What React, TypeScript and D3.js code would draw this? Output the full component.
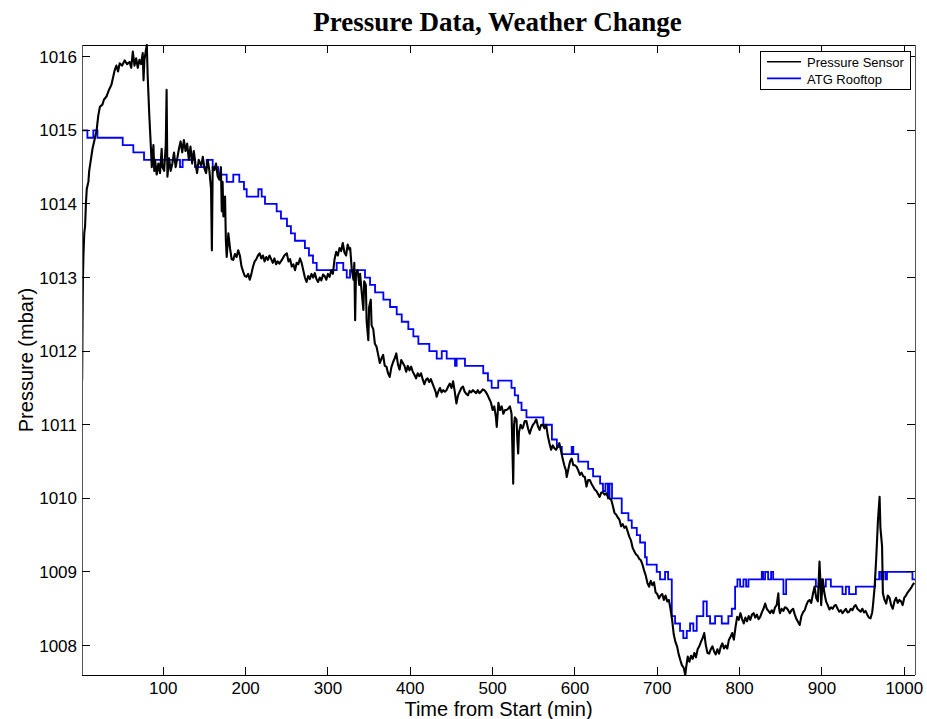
import React from 'react';
import * as d3 from 'd3';

// Pressure Sensor (black) — time (min), pressure (mbar)
const sensorTime = [
  1.4, 1.9, 2.4, 3, 4, 5, 6, 7, 8, 9, 10, 12, 14, 16, 19, 21, 23, 26, 28, 31, 34, 37, 41, 43, 45, 47, 50, 53, 56, 59,
  61, 63, 65, 67, 69, 71, 73, 75, 76, 77, 79, 80, 81, 83, 85, 86, 88, 89, 90, 92, 94, 96, 98, 99, 101, 103, 104, 105, 107, 109,
  111, 113, 115, 117, 119, 121, 123, 125, 127, 129, 131, 133, 135, 137, 139, 141, 143, 146, 148, 150, 152, 154, 156, 158, 159, 160, 162, 164, 166, 168,
  170, 171, 172, 173, 175, 176, 177, 179, 181, 183, 185, 187, 189, 191, 193, 195, 197, 199, 201, 203, 205, 207, 209, 211, 213, 215, 217, 219, 221, 223,
  225, 227, 229, 231, 233, 235, 237, 239, 241, 244, 247, 250, 252, 254, 256, 258, 260, 262, 264, 266, 268, 270, 272, 274, 276, 278, 280, 282, 284, 286,
  288, 290, 292, 294, 296, 298, 300, 302, 304, 306, 308, 310, 312, 314, 316, 318, 320, 322, 324, 326, 327, 329, 331, 332, 333, 334, 336, 338, 339, 341,
  343, 344, 346, 347, 349, 350, 352, 353, 355, 357, 359, 361, 363, 365, 367, 369, 371, 373, 375, 377, 379, 381, 383, 385, 387, 389, 391, 393, 395, 397,
  399, 401, 403, 405, 407, 409, 411, 413, 415, 417, 419, 421, 423, 425, 427, 429, 431, 432, 434, 436, 438, 440, 442, 444, 446, 448, 450, 452, 454, 456,
  458, 460, 462, 464, 466, 468, 470, 472, 474, 476, 478, 480, 482, 484, 486, 488, 490, 492, 494, 496, 498, 500, 502, 504, 505, 507, 509, 511, 513, 515,
  517, 519, 521, 523, 525, 526, 527, 529, 530, 531, 532, 534, 536, 537, 539, 541, 543, 545, 547, 549, 551, 553, 555, 557, 559, 561, 563, 565, 567, 569,
  571, 573, 575, 577, 579, 581, 583, 585, 587, 589, 590, 592, 594, 596, 598, 600, 602, 604, 606, 608, 610, 612, 614, 616, 618, 620, 622, 624, 626, 628,
  630, 632, 634, 636, 638, 640, 642, 644, 646, 648, 650, 652, 654, 656, 658, 660, 662, 664, 666, 668, 670, 672, 674, 676, 678, 680, 682, 684, 686, 688,
  690, 692, 694, 696, 698, 700, 702, 704, 706, 708, 710, 712, 714, 716, 718, 720, 722, 724, 726, 728, 730, 732, 734, 735, 737, 739, 741, 743, 745, 747,
  749, 751, 753, 755, 757, 759, 761, 763, 765, 767, 769, 771, 773, 775, 777, 779, 781, 783, 785, 787, 789, 791, 793, 795, 797, 799, 801, 803, 805, 807,
  809, 811, 813, 815, 817, 819, 821, 823, 825, 827, 829, 831, 833, 835, 837, 839, 841, 843, 845, 847, 848, 849, 851, 853, 855, 857, 859, 861, 863, 865,
  867, 869, 871, 873, 875, 877, 879, 881, 883, 885, 887, 889, 891, 893, 895, 897, 898, 899, 901, 903, 905, 907, 909, 911, 913, 915, 917, 919, 921, 923,
  925, 927, 929, 931, 933, 935, 937, 939, 941, 943, 945, 947, 949, 951, 953, 955, 957, 959, 961, 962, 964, 966, 968, 970, 971, 973, 974, 976, 978, 980,
  982, 984, 986, 988, 990, 992, 994, 996, 998, 1000, 1002, 1004, 1006, 1008, 1010, 1012,
];
const sensorPressure = [
  1011.6, 1012.4, 1013.0, 1013.3, 1013.6, 1013.7, 1014.0, 1014.2, 1014.25, 1014.3, 1014.45, 1014.6, 1014.75, 1014.85, 1015.0, 1015.2, 1015.32, 1015.35, 1015.42, 1015.46, 1015.55, 1015.62, 1015.82, 1015.88, 1015.8, 1015.91, 1015.88, 1015.95, 1015.9, 1015.93,
  1015.85, 1016.07, 1015.88, 1015.98, 1015.85, 1015.96, 1015.9, 1016.05, 1015.68, 1015.95, 1016.1, 1016.16, 1015.75, 1015.2, 1014.75, 1014.5, 1014.8, 1014.45, 1014.6, 1014.4, 1014.55, 1014.42, 1014.75, 1014.5, 1014.45, 1014.8, 1015.55, 1014.37, 1014.62, 1014.45,
  1014.55, 1014.7, 1014.5, 1014.62, 1014.75, 1014.85, 1014.7, 1014.87, 1014.72, 1014.82, 1014.6, 1014.78, 1014.55, 1014.72, 1014.55, 1014.42, 1014.6, 1014.52, 1014.64, 1014.48, 1014.42, 1014.6, 1014.45, 1014.2, 1013.37, 1014.5, 1014.46, 1014.55, 1014.38, 1014.33,
  1014.5, 1013.9, 1014.3, 1013.83, 1014.1, 1013.5, 1013.28, 1013.6, 1013.4, 1013.25, 1013.24, 1013.32, 1013.28, 1013.37, 1013.3, 1013.15, 1013.08, 1013.02, 1013.01, 1013.05, 1012.97, 1013.05, 1013.15, 1013.22, 1013.25, 1013.3, 1013.33, 1013.26, 1013.3, 1013.22,
  1013.28, 1013.24, 1013.3, 1013.25, 1013.2, 1013.26, 1013.18, 1013.22, 1013.19, 1013.24, 1013.3, 1013.33, 1013.22, 1013.25, 1013.15, 1013.18, 1013.1, 1013.2, 1013.18, 1013.26, 1013.2, 1013.1, 1013.0, 1012.94, 1013.02, 1012.98, 1013.05, 1013.0, 1013.06, 1012.98,
  1012.94, 1013.0, 1012.96, 1013.04, 1013.02, 1012.97, 1013.05, 1013.01, 1013.1, 1013.05, 1013.25, 1013.35, 1013.3, 1013.4, 1013.36, 1013.47, 1013.34, 1013.3, 1013.45, 1013.38, 1013.4, 1013.1, 1012.97, 1013.2, 1012.42, 1013.05, 1013.1, 1012.9, 1013.05, 1012.8,
  1012.56, 1012.95, 1012.9, 1012.4, 1012.15, 1012.6, 1012.7, 1012.35, 1012.3, 1012.1, 1012.06, 1011.95, 1011.84, 1011.9, 1011.95, 1011.8, 1011.79, 1011.7, 1011.65, 1011.78, 1011.85, 1011.9, 1011.97, 1011.82, 1011.75, 1011.88, 1011.84, 1011.8, 1011.72, 1011.8,
  1011.74, 1011.79, 1011.72, 1011.68, 1011.63, 1011.7, 1011.66, 1011.7, 1011.62, 1011.55, 1011.61, 1011.63, 1011.58, 1011.62, 1011.56, 1011.5, 1011.44, 1011.38, 1011.45, 1011.5, 1011.44, 1011.47, 1011.45, 1011.47, 1011.52, 1011.56, 1011.5, 1011.59, 1011.45, 1011.29,
  1011.4, 1011.45, 1011.5, 1011.52, 1011.45, 1011.42, 1011.4, 1011.46, 1011.44, 1011.47, 1011.45, 1011.43, 1011.47, 1011.43, 1011.45, 1011.48, 1011.47, 1011.44, 1011.4, 1011.35, 1011.3, 1011.2, 1011.25, 1011.1, 1010.97, 1011.3, 1011.2, 1011.25, 1011.15, 1011.2,
  1011.2, 1011.22, 1011.25, 1011.15, 1010.2, 1011.0, 1011.1, 1011.07, 1010.8, 1010.61, 1010.9, 1011.0, 1010.95, 1010.97, 1011.05, 1011.05, 1010.95, 1010.88, 1010.95, 1011.0, 1011.03, 1011.07, 1010.98, 1010.93, 1011.0, 1011.0, 1010.95, 1011.0, 1010.85, 1010.75,
  1010.66, 1010.72, 1010.68, 1010.66, 1010.7, 1010.75, 1010.65, 1010.54, 1010.45, 1010.38, 1010.29, 1010.4, 1010.5, 1010.54, 1010.45, 1010.45, 1010.43, 1010.38, 1010.32, 1010.35, 1010.3, 1010.29, 1010.16, 1010.25, 1010.25, 1010.2, 1010.16, 1010.12, 1010.1, 1010.06,
  1010.02, 1010.08, 1010.08, 1010.05, 1010.07, 1010.02, 1010.0, 1009.98, 1009.9, 1009.8, 1009.78, 1009.74, 1009.71, 1009.62, 1009.65, 1009.6, 1009.62, 1009.55, 1009.48, 1009.43, 1009.33, 1009.28, 1009.24, 1009.22, 1009.18, 1009.16, 1009.1, 1009.02, 1008.95, 1008.85,
  1008.8, 1008.88, 1008.82, 1008.86, 1008.72, 1008.7, 1008.64, 1008.68, 1008.7, 1008.62, 1008.68, 1008.6, 1008.62, 1008.5, 1008.35, 1008.15, 1008.05, 1007.99, 1007.88, 1007.8, 1007.73, 1007.7, 1007.6, 1007.7, 1007.85, 1007.78, 1007.86, 1007.82, 1007.9, 1007.84,
  1007.95, 1007.99, 1008.05, 1008.1, 1008.17, 1008.0, 1007.9, 1007.89, 1007.95, 1007.99, 1007.92, 1007.88, 1007.95, 1007.89, 1007.98, 1008.03, 1007.96, 1008.0, 1007.96, 1008.08, 1008.12, 1008.17, 1008.08, 1008.25, 1008.39, 1008.35, 1008.44, 1008.36, 1008.3, 1008.38,
  1008.33, 1008.4, 1008.35, 1008.42, 1008.44, 1008.38, 1008.42, 1008.36, 1008.39, 1008.45, 1008.5, 1008.57, 1008.5, 1008.47, 1008.44, 1008.48, 1008.44, 1008.52, 1008.55, 1008.71, 1008.5, 1008.44, 1008.5, 1008.47, 1008.52, 1008.51, 1008.48, 1008.44, 1008.48, 1008.5,
  1008.42, 1008.36, 1008.32, 1008.28, 1008.4, 1008.45, 1008.48, 1008.55, 1008.6, 1008.62, 1008.58, 1008.7, 1008.8, 1008.65, 1008.6, 1009.14, 1008.9, 1008.55, 1008.9, 1008.71, 1008.6, 1008.55, 1008.49, 1008.52, 1008.5, 1008.54, 1008.55, 1008.5, 1008.46, 1008.48,
  1008.44, 1008.47, 1008.5, 1008.45, 1008.46, 1008.5, 1008.48, 1008.53, 1008.55, 1008.5, 1008.48, 1008.46, 1008.5, 1008.45, 1008.47, 1008.42, 1008.38, 1008.37, 1008.45, 1008.55, 1008.8, 1009.21, 1009.7, 1010.02, 1009.6, 1009.35, 1008.71, 1008.62, 1008.57, 1008.68,
  1008.65, 1008.55, 1008.5, 1008.6, 1008.65, 1008.58, 1008.62, 1008.6, 1008.55, 1008.65, 1008.68, 1008.72, 1008.75, 1008.78, 1008.82, 1008.85,
];

// ATG Rooftop (blue) — step changes: time (min), pressure (mbar)
const rooftopTime = [
  1, 7.8, 15, 20, 50.7, 63.6, 76.6, 120.3, 123.5, 138.5, 152.7, 160, 166.7, 177, 185, 192.3, 198, 201.3, 215.4, 219.5,
  223.5, 237.7, 242.9, 250.2, 255, 259.9, 272, 276.9, 281.8, 286.3, 310.6, 318.6, 322.8, 326.8, 345, 351.1, 357.2, 367.3, 375.4, 383.5,
  389.6, 397.6, 403.7, 409.8, 423.1, 432.1, 438.2, 444.2, 454.3, 456.3, 466.4, 488.6, 494.3, 498.8, 506.8, 522.9, 526.9, 531, 535.1, 541.1,
  561.6, 572, 578, 584, 596, 598, 604, 616, 622, 630.5, 634, 637, 640, 642, 645, 656.8, 664.9, 669, 675.1, 679.1,
  685.1, 687.2, 699.3, 703.3, 709.4, 713.1, 717.6, 721.6, 727.6, 731.6, 735.8, 739.8, 743.8, 747.9, 755.9, 760.1, 764.1, 770.2, 778.3, 786.3,
  790.5, 794.5, 797.3, 800.6, 804.6, 807.9, 810.7, 826.9, 828.5, 831, 834.6, 838.2, 840.7, 853.2, 856.5, 892.6, 896.6, 900.3, 904.7, 910.8,
  924.9, 929, 933, 941.2, 964.6, 969.5, 971.9, 974.3, 977, 979, 1009.9, 1013,
];
const rooftopPressure = [
  1015.0, 1014.9, 1015.0, 1014.9, 1014.8, 1014.7, 1014.6, 1014.5, 1014.6, 1014.5, 1014.6, 1014.5, 1014.4, 1014.3, 1014.4, 1014.3, 1014.2, 1014.1, 1014.2, 1014.1,
  1014.0, 1013.9, 1013.8, 1013.7, 1013.6, 1013.5, 1013.4, 1013.3, 1013.2, 1013.1, 1013.2, 1013.1, 1013.0, 1013.1, 1013.0, 1012.9, 1012.8, 1012.7, 1012.6, 1012.5,
  1012.4, 1012.3, 1012.2, 1012.1, 1012.0, 1011.9, 1012.0, 1011.9, 1011.8, 1011.9, 1011.8, 1011.7, 1011.6, 1011.5, 1011.6, 1011.5, 1011.4, 1011.3, 1011.2, 1011.1,
  1011.0, 1010.8, 1010.7, 1010.6, 1010.7, 1010.6, 1010.5, 1010.4, 1010.3, 1010.2, 1010.1, 1010.2, 1010.0, 1010.2, 1010.0, 1009.8, 1009.7, 1009.6, 1009.5, 1009.4,
  1009.2, 1009.1, 1009.0, 1008.9, 1009.0, 1008.9, 1008.4, 1008.3, 1008.2, 1008.1, 1008.2, 1008.3, 1008.2, 1008.4, 1008.6, 1008.4, 1008.3, 1008.4, 1008.3, 1008.4,
  1008.5, 1008.8, 1008.9, 1008.8, 1008.9, 1008.8, 1008.9, 1009.0, 1008.9, 1009.0, 1008.9, 1009.0, 1008.9, 1008.7, 1008.9, 1008.8, 1008.9, 1008.8, 1008.9, 1008.8,
  1008.7, 1008.8, 1008.7, 1008.8, 1008.9, 1009.0, 1008.9, 1009.0, 1008.9, 1009.0, 1008.9, 1008.9,
];

const xTicks = [100, 200, 300, 400, 500, 600, 700, 800, 900, 1000];
const yTicks = [1008, 1009, 1010, 1011, 1012, 1013, 1014, 1015, 1016];
const seriesNames = ['Pressure Sensor', 'ATG Rooftop'];
const seriesColors = ['#000000', '#0000ff'];

export default function App() {
  const W = 927;
  const H = 719;
  const L = 82, R = 915, T = 45, B = 675;
  const x = d3.scaleLinear().domain([1.25, 1013]).range([L, R]);
  const y = d3.scaleLinear().domain([1007.6, 1016.16]).range([B, T]);

  const sensor: [number, number][] = sensorTime.map((t, i) => [t, sensorPressure[i]]);
  const rooftop: [number, number][] = rooftopTime.map((t, i) => [t, rooftopPressure[i]]);

  const lineGen = d3.line<[number, number]>().x(d => x(d[0])).y(d => y(d[1]));
  const stepGen = d3.line<[number, number]>().x(d => x(d[0])).y(d => y(d[1])).curve(d3.curveStepAfter);

  const font = '"Liberation Sans", Arial, Helvetica, sans-serif';
  const tick = 8;

  return (
    <svg width={W} height={H} style={{ position: 'absolute', left: 0, top: 0, background: '#fff' }}
      xmlns="http://www.w3.org/2000/svg">
      <rect x={0} y={0} width={W} height={H} fill="#fff" />
      <defs>
        <clipPath id="plotclip">
          <rect x={L} y={T - 1} width={R - L} height={B - T + 2} />
        </clipPath>
      </defs>

      {/* data */}
      <g clipPath="url(#plotclip)">
        <path d={stepGen(rooftop) || ''} fill="none" stroke={seriesColors[1]} strokeWidth={1.8} />
        <path d={lineGen(sensor) || ''} fill="none" stroke={seriesColors[0]} strokeWidth={2.1} strokeLinejoin="round" />
      </g>

      {/* box */}
      <g shapeRendering="crispEdges" stroke="#000" strokeWidth={1} fill="none">
        <line x1={L} x2={R} y1={T} y2={T} />
        <line x1={L} x2={R} y1={B} y2={B} />
        <line x1={L} x2={L} y1={T} y2={B} stroke="#555" />
        <line x1={R} x2={R} y1={T} y2={B} stroke="#555" />
        {xTicks.map(v => (
          <g key={'xt' + v}>
            <line x1={x(v)} x2={x(v)} y1={B} y2={B - tick} />
            <line x1={x(v)} x2={x(v)} y1={T} y2={T + tick} />
          </g>
        ))}
        {yTicks.map(v => (
          <g key={'yt' + v}>
            <line x1={L} x2={L + tick} y1={y(v)} y2={y(v)} />
            <line x1={R} x2={R - tick} y1={y(v)} y2={y(v)} />
          </g>
        ))}
      </g>

      {/* tick labels */}
      <g fontFamily={font} fontSize={17} fill="#000">
        {xTicks.map(v => (
          <text key={'xl' + v} x={x(v)} y={B + 19} textAnchor="middle">{v}</text>
        ))}
        {yTicks.map(v => (
          <text key={'yl' + v} x={L - 5} y={y(v)} dy="0.36em" textAnchor="end">{v}</text>
        ))}
      </g>

      {/* axis labels */}
      <text x={(L + R) / 2} y={716} textAnchor="middle" fontFamily={font} fontSize={20}>Time from Start (min)</text>
      <text transform={`translate(33,${(T + B) / 2}) rotate(-90)`} textAnchor="middle" fontFamily={font} fontSize={20}>Pressure (mbar)</text>

      {/* title */}
      <text x={497.5} y={31} textAnchor="middle" fontFamily='"Liberation Serif", "Times New Roman", serif'
        fontWeight="bold" fontSize={27}>Pressure Data, Weather Change</text>

      {/* legend */}
      <g>
        <rect x={760.5} y={51.5} width={150} height={38} fill="#fff" stroke="#000" strokeWidth={1} />
        {seriesNames.map((name, i) => (
          <g key={name}>
            <line x1={767} x2={801} y1={61.7 + i * 16.7} y2={61.7 + i * 16.7} stroke={seriesColors[i]} strokeWidth={1.6} />
            <text x={807} y={67.3 + i * 16.7} fontFamily={font} fontSize={13} fill="#000">{name}</text>
          </g>
        ))}
      </g>
    </svg>
  );
}
